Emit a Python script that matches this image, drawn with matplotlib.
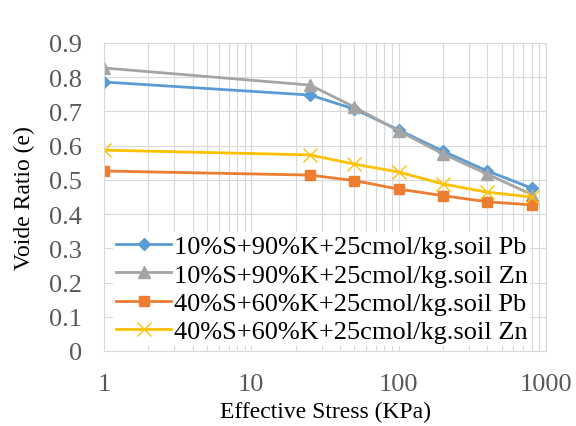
import numpy as np
import matplotlib
matplotlib.use('Agg')
import matplotlib.pyplot as plt
from matplotlib.ticker import FixedLocator, LogLocator, NullFormatter

plt.rcParams['font.family'] = 'Liberation Serif'

# Effective stress (KPa)
stress = [1, 25, 50, 100, 200, 400, 800]

# Void ratio values
s10_pb = [0.786, 0.748, 0.707, 0.646, 0.584, 0.526, 0.476]
s10_zn = [0.827, 0.777, 0.713, 0.643, 0.576, 0.517, 0.457]
s40_pb = [0.526, 0.514, 0.498, 0.473, 0.454, 0.436, 0.427]
s40_zn = [0.587, 0.573, 0.546, 0.523, 0.488, 0.464, 0.450]

labels = ['10%S+90%K+25cmol/kg.soil Pb',
          '10%S+90%K+25cmol/kg.soil Zn',
          '40%S+60%K+25cmol/kg.soil Pb',
          '40%S+60%K+25cmol/kg.soil Zn']

fig = plt.figure(figsize=(5.76, 4.27), dpi=100)
ax = fig.add_axes([104/576, 1-352/427, 442/576, 308/427])

grid_c = '#D9D9D9'
ax.plot(stress, s10_pb, color='#5B9BD5', lw=2, marker='D', ms=6, label=labels[0])
ax.plot(stress, s10_zn, color='#A5A5A5', lw=2, marker='^', ms=8, label=labels[1])
ax.plot(stress, s40_pb, color='#ED7D31', lw=2, marker='s', ms=7, label=labels[2])
ax.plot(stress, s40_zn, color='#FFC000', lw=2, marker='x', ms=10, mew=1, label=labels[3])

ax.set_xscale('log')
ax.set_xlim(1, 1000)
ax.set_ylim(0, 0.9)
ax.set_yticks(np.arange(0, 0.91, 0.1))
ax.set_yticklabels(['0', '0.1', '0.2', '0.3', '0.4', '0.5', '0.6', '0.7', '0.8', '0.9'])
ax.xaxis.set_major_locator(FixedLocator([1, 10, 100, 1000]))
ax.set_xticklabels(['1', '10', '100', '1000'])
ax.xaxis.set_minor_locator(LogLocator(base=10, subs=np.arange(2, 10)))
ax.xaxis.set_minor_formatter(NullFormatter())

ax.grid(True, which='major', color=grid_c, lw=0.8)
ax.grid(True, which='minor', axis='x', color=grid_c, lw=0.8)
ax.set_axisbelow(True)
for sp in ax.spines.values():
    sp.set_color(grid_c)
    sp.set_linewidth(0.8)

ax.tick_params(axis='both', which='both', length=0, labelsize=19, labelcolor='#595959')
ax.tick_params(axis='x', pad=16)
ax.tick_params(axis='y', pad=16)

ax.set_xlabel('Effective Stress (KPa)', fontsize=17, labelpad=4)
ax.set_ylabel('Voide Ratio (e)', fontsize=17, labelpad=10)

leg = ax.legend(loc='lower left', bbox_to_anchor=(0.009, 0.0), fontsize=19,
                frameon=True, fancybox=False, edgecolor='none', framealpha=1,
                handlelength=2.1, handletextpad=0.1, labelspacing=0.18,
                borderpad=0.1, borderaxespad=0.2)

fig.savefig('out.png', dpi=100)
